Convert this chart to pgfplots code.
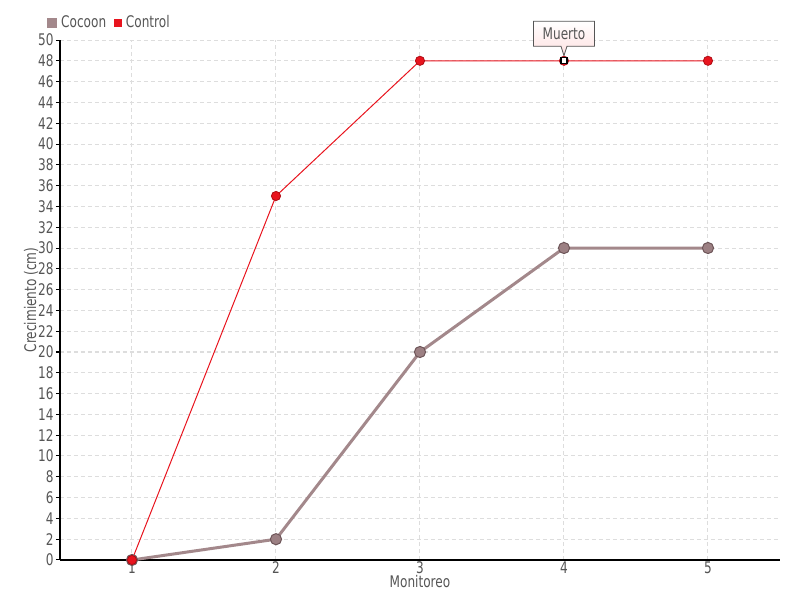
\documentclass[border=0pt]{standalone}
\usepackage{fontspec}
\setmainfont[FakeStretch=0.84]{DejaVu Sans Condensed}
\usepackage{pgfplots}
\pgfplotsset{compat=1.18}
\usetikzlibrary{shapes.callouts}
\definecolor{CocoonFill}{HTML}{9C8083}
\definecolor{CocoonLine}{HTML}{A3888B}
\definecolor{CocoonEdge}{HTML}{6E5659}
\definecolor{CtrlRed}{HTML}{E8141E}
\definecolor{CtrlEdge}{HTML}{B00C14}
\definecolor{TxtGray}{HTML}{555555}
\definecolor{GridGray}{HTML}{DDDDDD}

\begin{document}
\begin{tikzpicture}
\useasboundingbox (-30pt,-20pt) rectangle (370pt,280pt);
\begin{axis}[
    scale only axis,
    width=360pt, height=260pt,
    xmin=0.5, xmax=5.5,
    ymin=0, ymax=50,
    xtick={1,2,3,4,5},
    ytick={0,2,...,50},
    axis x line*=bottom,
    axis y line*=left,
    axis line style={black, line width=0.6pt, -},
    tick style={black, line width=0.5pt},
    tick align=outside,
    major tick length=2pt,
    xtick style={draw=none},
    grid=major,
    major grid style={GridGray, line width=0.5pt, dash pattern=on 2pt off 1.5pt},
    font=\fontsize{8}{9.5}\selectfont,
    tick label style={TxtGray, font=\fontsize{8}{9.5}\selectfont},
    /pgf/number format/assume math mode=true,
    xticklabel style={inner sep=0pt, yshift=1.5pt},
    yticklabel style={inner sep=1pt},
    xlabel={Monitoreo},
    ylabel={Crecimiento (cm)},
    every axis x label/.style={at={(rel axis cs:0.5,0)}, yshift=-11pt, anchor=center, TxtGray},
    every axis y label/.style={at={(rel axis cs:0,0.5)}, xshift=-14.5pt, rotate=90, anchor=center, TxtGray},
    legend style={at={(rel axis cs:-0.018,1.032)}, anchor=west, draw=none, fill=none,
        legend columns=2, font=\fontsize{8}{9.5}\selectfont, text=TxtGray,
        /tikz/every even column/.append style={column sep=2pt},
        inner sep=0pt},
    legend image code/.code={\fill[#1] (0pt,-1.7pt) rectangle (3.4pt,1.7pt);},
    clip=false,
]
\addplot[color=CocoonLine, line width=1.5pt, mark=*, mark size=2.8pt,
    mark options={fill=CocoonFill, draw=CocoonEdge, line width=0.5pt}]
    coordinates {(1,0) (2,2) (3,20) (4,30) (5,30)};
\addlegendentry{Cocoon}
\addplot[color=CtrlRed, line width=0.5pt, mark=*, mark size=2.3pt,
    mark options={fill=CtrlRed, draw=CtrlEdge, line width=0.4pt}]
    coordinates {(1,0) (2,35) (3,48) (4,48) (5,48)};
\addlegendentry{Control}
\addplot[forget plot, only marks, mark=square*, mark size=1.5pt,
    mark options={fill=white, draw=black, line width=0.6pt}]
    coordinates {(4,48)};
\node[rectangle callout, draw=TxtGray, line width=0.4pt,
      top color=white, bottom color=red!12,
      minimum width=30.5pt, minimum height=12.5pt, inner sep=1pt,
      callout pointer width=3pt,
      text=TxtGray, font=\fontsize{8}{9.5}\selectfont,
      callout absolute pointer={(axis cs:4,48.5)}]
    at (axis cs:4,50.6) {Muerto};
\end{axis}
\end{tikzpicture}
\end{document}
